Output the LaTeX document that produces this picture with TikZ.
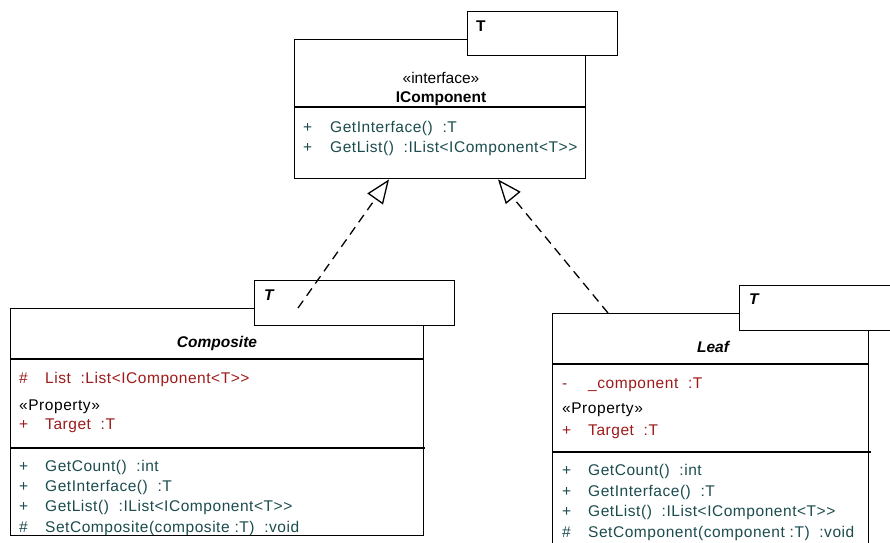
\documentclass[tikz,border=0pt]{standalone}
\usepackage{fontspec}
\setmainfont{Liberation Sans}[LetterSpace=3.5]
\newfontfamily\titlefont{Liberation Sans}
\usetikzlibrary{arrows.meta}
\definecolor{opcol}{RGB}{28,76,78}
\definecolor{attrcol}{RGB}{158,26,26}
\tikzset{
  classbox/.style={draw, line width=1.4pt, fill=white, anchor=north west, inner sep=0pt},
  parambox/.style={draw, line width=1.4pt, fill=white, anchor=north west, inner sep=0pt},
  divider/.style={line width=1.1pt},
  txt/.style={anchor=base west, inner sep=0pt, font=\fontsize{15.5}{18}\selectfont},
  ctitle/.style={anchor=base, inner sep=0pt, font=\fontsize{15.5}{18}\selectfont\titlefont\bfseries\itshape},
  optext/.style={txt, text=opcol},
  attrtext/.style={txt, text=attrcol},
  realize/.style={line width=1.3pt, dash pattern=on 9pt off 6pt,
    -{Triangle[open, length=24pt, width=19pt, line width=1.3pt]}}
}
\begin{document}
\begin{tikzpicture}[x=1pt, y=-1pt]
\useasboundingbox[fill=white] (0,0) rectangle (890,542);

% ---------- IComponent<T> ----------
\node[classbox, minimum width=291pt, minimum height=139pt] (iface) at (294,39) {};
\node[parambox, minimum width=150pt, minimum height=44pt] (ifaceT) at (467,11) {};
\node[txt, font=\fontsize{15.5}{18}\selectfont\titlefont\bfseries] (ifaceTl) at (476,31) {T};
\draw[divider] (294,107) -- (585,107);
\node[anchor=base, inner sep=0pt, font=\fontsize{15.5}{18}\selectfont\titlefont] (ifaceSt) at (441,83) {«interface»};
\node[anchor=base, inner sep=0pt, font=\fontsize{15.5}{18}\selectfont\titlefont\bfseries] (ifaceName) at (441,102) {IComponent};
\node[optext] (ifop1v) at (303,132) {+};
\node[optext] (ifop1) at (330,132) {GetInterface()\ \ :T};
\node[optext] (ifop2v) at (303,152) {+};
\node[optext] (ifop2) at (330,152) {GetList()\ \ :IList<IComponent<T>{}>};

% ---------- Composite<T> ----------
\node[classbox, minimum width=413pt, minimum height=227pt] (composite) at (10,308) {};
\node[parambox, minimum width=200pt, minimum height=45pt] (compT) at (254,280) {};
\node[txt, font=\fontsize{15.5}{18}\selectfont\titlefont\bfseries\itshape] (compTl) at (264,300) {T};
\draw[divider] (10,359) -- (423,359);
\draw[divider] (10,448) -- (425,448);
\node[ctitle] (compName) at (217,347) {Composite};
\node[attrtext] (ca1v) at (19,383) {\#};
\node[attrtext] (ca1) at (45,383) {List\ \ :List<IComponent<T>{}>};
\node[txt] (cst) at (19,410) {«Property»};
\node[attrtext] (ca2v) at (19,429) {+};
\node[attrtext] (ca2) at (45,429) {Target\ \ :T};
\node[optext] (co1v) at (19,471) {+};
\node[optext] (co1) at (45,471) {GetCount()\ \ :int};
\node[optext] (co2v) at (19,491) {+};
\node[optext] (co2) at (45,491) {GetInterface()\ \ :T};
\node[optext] (co3v) at (19,511) {+};
\node[optext] (co3) at (45,511) {GetList()\ \ :IList<IComponent<T>{}>};
\node[optext] (co4v) at (19,532) {\#};
\node[optext] (co4) at (45,532) {SetComposite(composite :T)\ \ :void};

% ---------- Leaf<T> ----------
\node[classbox, minimum width=316pt, minimum height=240pt] (leaf) at (552,313) {};
\node[parambox, minimum width=170pt, minimum height=45pt] (leafT) at (739,285) {};
\node[txt, font=\fontsize{15.5}{18}\selectfont\titlefont\bfseries\itshape] (leafTl) at (749,304) {T};
\draw[divider] (552,364) -- (868,364);
\draw[divider] (552,452) -- (871,452);
\node[ctitle] (leafName) at (713,352) {Leaf};
\node[attrtext] (la1v) at (562,388) {-};
\node[attrtext] (la1) at (588,388) {\_component\ \ :T};
\node[txt] (lst) at (562,413) {«Property»};
\node[attrtext] (la2v) at (562,435) {+};
\node[attrtext] (la2) at (588,435) {Target\ \ :T};
\node[optext] (lo1v) at (562,475) {+};
\node[optext] (lo1) at (588,475) {GetCount()\ \ :int};
\node[optext] (lo2v) at (562,496) {+};
\node[optext] (lo2) at (588,496) {GetInterface()\ \ :T};
\node[optext] (lo3v) at (562,516) {+};
\node[optext] (lo3) at (588,516) {GetList()\ \ :IList<IComponent<T>{}>};
\node[optext] (lo4v) at (562,537) {\#};
\node[optext] (lo4) at (588,537) {SetComponent(component :T)\ \ :void};

% ---------- realizations ----------
\draw[realize] ([xshift=288pt]composite.north west) -- ([xshift=95pt]iface.south west);
\draw[realize] ([xshift=56pt]leaf.north west) -- ([xshift=204pt]iface.south west);
\end{tikzpicture}
\end{document}
